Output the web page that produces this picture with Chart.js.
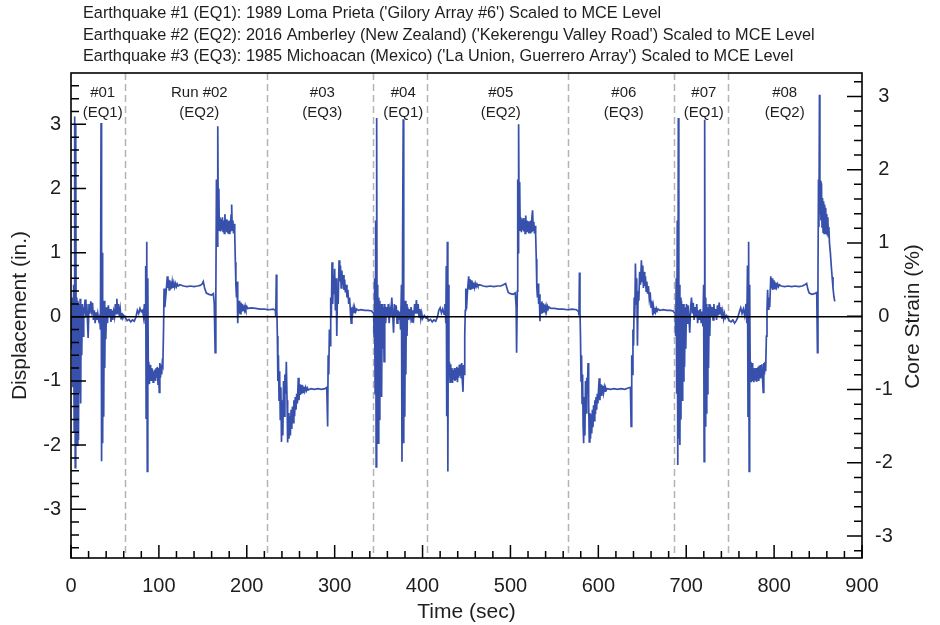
<!DOCTYPE html>
<html>
<head>
<meta charset="utf-8">
<script src="https://cdn.jsdelivr.net/npm/chart.js@4/dist/chart.umd.min.js"></script>
<style>
  html, body { margin: 0; padding: 0; background: #fff; }
  #wrap { width: 940px; height: 625px; }
</style>
</head>
<body>
<div id="wrap"><canvas id="quakeChart" width="940" height="625"></canvas></div>
<script>
// ---- data (time in sec, displacement in inches) ----
const titleLines = [
  "Earthquake #1 (EQ1): 1989 Loma Prieta ('Gilory Array #6') Scaled to MCE Level",
  "Earthquake #2 (EQ2): 2016 Amberley (New Zealand) ('Kekerengu Valley Road') Scaled to MCE Level",
  "Earthquake #3 (EQ3): 1985 Michoacan (Mexico) ('La Union, Guerrero Array') Scaled to MCE Level"
];
const runNames = ["#01", "Run #02", "#03", "#04", "#05", "#06", "#07", "#08"];
const runQuakes = ["(EQ1)", "(EQ2)", "(EQ3)", "(EQ1)", "(EQ2)", "(EQ3)", "(EQ1)", "(EQ2)"];
const runCenters = [36, 146, 286, 378, 489, 629, 720, 812];
const runBounds = [61.5, 223, 344, 405, 565, 686, 747];
const xTicks = [0, 100, 200, 300, 400, 500, 600, 700, 800, 900];
const yTicks = [-3, -2, -1, 0, 1, 2, 3];
const strainTicks = [-3, -2, -1, 0, 1, 2, 3];

const run01 = [[0,0],[0.8,-0.5],[1.5,0.3],[2.2,-1.1],[3,0.5],[3.6,-1.8],[4.2,3.12],[4.8,-2.35],[5.4,3.0],[6,-1.7],[6.6,0.3],[7.2,-2.0],[7.8,0.25],[8.5,-1.92],[9.2,0.2],[9.8,-1.2],[10.4,0.28],[11,-1.35],[11.6,0.15],[12.2,-0.6],[13,0.2],[13.8,-0.3],[14.5,0.15],[15,0.05],[16,0.27],[17,0],[18,0.2],[19,-0.15],[19.5,-0.33],[20.5,0.2],[21.5,0.05],[22.5,0.24],[23.5,0.1],[24.5,0.22],[25.5,-0.05],[26.5,0.1],[27.5,-0.1],[28.5,0.07],[29.5,-0.05],[30.5,0.05],[31.5,-0.05],[32.5,0],[33.5,-0.2],[34.2,3.02],[34.8,-2.25],[35.4,1.0],[36,-1.97],[36.6,0.2],[37.2,-1.56],[37.8,0.25],[38.4,-0.8],[39,0.15],[39.6,-0.35],[40.5,0.15],[41.5,-0.1],[42.5,0.18],[43.5,0],[44.5,0.12],[45.5,-0.08],[46.5,0.1],[47.5,-0.05],[48.5,0.08],[49.5,0],[50.5,0.2],[51.5,0.05],[52.2,0.28],[53,0.05],[54,0.2],[55,0],[56,0.12],[57,-0.03],[58,0.06],[59,-0.02],[60,0.02]];

const run02 = [[62,-0.02],[64,-0.06],[66,-0.04],[68,-0.08],[70,-0.05],[72,-0.07],[74,0],[75.5,0.1],[77,0.05],[78.5,0.13],[80,0.08],[81.5,0.1],[82.5,0],[83.5,0.2],[84.5,-0.1],[85,0.79],[85.5,-1.58],[86.2,1.17],[86.8,-2.41],[87.4,0.6],[88,-0.9],[88.5,-0.7],[89.2,-1.05],[89.9,-0.75],[90.6,-1.0],[91.3,-0.8],[92,-1.0],[92.7,-0.82],[93.4,-1.02],[94.1,-0.85],[94.8,-0.98],[95.5,-0.82],[96.2,-1.0],[96.9,-0.8],[97.6,-0.95],[98.3,-0.78],[99,-1.05],[99.7,-0.8],[100.4,-1.18],[101.1,-0.72],[101.8,-0.95],[102.5,-0.75],[103.2,-0.9],[103.9,-0.72],[104.5,-0.75],[105.3,-0.2],[105.9,0.44],[106.8,0.15],[108,0.35],[109.6,0.63],[110.3,0.45],[111,0.58],[111.7,0.42],[112.4,0.57],[113.1,0.43],[113.8,0.55],[114.5,0.44],[115.2,0.54],[116,0.45],[117,0.53],[118,0.46],[119,0.52],[120,0.47],[121,0.51],[122,0.48],[124,0.5],[128,0.48],[132,0.47],[136,0.48],[140,0.47],[144,0.48],[147,0.49],[149,0.51],[150.5,0.55],[152,0.45],[154,0.37],[157,0.35],[160,0.34],[162,0.36],[163,0.2],[164,-0.56],[164.8,0.3],[165.5,2.14],[166.2,1.1],[167,2.97],[167.6,1.4],[168.2,2.0],[168.8,1.35],[169.5,1.55],[170.2,1.33],[170.9,1.52],[171.6,1.35],[172.3,1.55],[173,1.33],[173.7,1.5],[174.4,1.3],[175.1,1.6],[175.8,1.35],[176.5,1.52],[177.2,1.32],[177.9,1.5],[178.6,1.3],[179.3,1.48],[180,1.3],[180.7,1.5],[181.4,1.32],[182.1,1.58],[182.8,1.75],[183.5,1.35],[184.2,1.5],[184.9,1.3],[185.6,1.45],[186.3,1.3],[187,0.85],[187.6,0.5],[188.3,0.3],[189,0.55],[189.7,-0.1],[190.4,0.25],[191,0.05],[191.8,0.25],[192.6,0.05],[193.4,0.22],[194.2,0.08],[195,0.2],[195.8,0.1],[196.6,0.18],[197.4,0.11],[198.2,0.17],[199,0.12],[200,0.16],[201,0.13],[205,0.14],[210,0.13],[215,0.12],[220,0.12]];

const run03 = [[225,0.11],[230,0.12],[232.5,0.1],[233,0],[233.6,0.66],[234.2,0.1],[234.8,-0.3],[235.4,-1.0],[236,-0.6],[236.7,-1.3],[237.4,-0.85],[238.1,-1.6],[238.8,-1.1],[239.5,-1.95],[240.2,-1.3],[241,-1.85],[241.8,-1.0],[242.6,-1.55],[243.4,-0.9],[244.2,-1.2],[245,-0.7],[245.8,-1.3],[246.5,-1.96],[247.2,-1.5],[248,-1.9],[248.8,-1.55],[249.6,-1.85],[250.4,-1.45],[251.2,-1.75],[252,-1.4],[252.8,-1.65],[253.6,-1.3],[254.4,-1.55],[255.2,-1.25],[256,-1.45],[256.8,-1.2],[257.6,-1.35],[258.6,-0.95],[259.4,-1.3],[260.2,-1.05],[261,-1.22],[261.8,-1.06],[262.6,-1.2],[263.4,-1.07],[264.2,-1.18],[265,-1.09],[266,-1.16],[267,-1.1],[268,-1.15],[269,-1.11],[270,-1.14],[273,-1.12],[277,-1.13],[281,-1.12],[285,-1.13],[289,-1.12],[291,-1.1],[292,-1.71],[292.6,-0.6],[293.3,-0.9],[294,-0.2],[294.8,-0.45],[295.5,0.3],[296.2,0],[297,0.85],[297.8,0.2],[298.5,0.6],[299.2,0.35],[300,0.75],[300.8,0.1],[301.6,0.6],[302.4,-0.3],[303.2,0.4],[304,0.2],[305,0.88],[305.8,0.55],[306.6,0.8],[307.4,0.45],[308.2,0.72],[309,0.5],[309.8,0.65],[310.6,0.42],[311.4,0.58],[312.2,0.38],[313,0.5],[314,0.3],[315,0.42],[316,0.2],[317,0.3],[318,0.05],[318.8,-0.1],[319.6,0.15],[320.4,0.05],[321.2,0.14],[322,0.07],[323,0.13],[324,0.08],[325,0.12],[327,0.1],[330,0.11],[334,0.1],[338,0.1],[342,0.09]];

const run04 = [[344.5,0.05],[344.8,-0.3],[345.4,0.6],[346,-1.2],[346.6,1.5],[347.2,-2.34],[347.8,3.1],[348.4,-1.9],[349,0.5],[349.6,-1.97],[350.2,0.3],[350.8,-1.6],[351.4,0.25],[352,-1.2],[352.7,0.2],[353.4,-1.25],[354.1,0.2],[354.8,-0.5],[355.5,0.15],[356.2,-0.7],[357,0.2],[358,-0.1],[359,0.15],[360,0],[361,0.2],[362,-0.1],[363,0.1],[364,0],[365,0.3],[366,0.05],[367,-0.25],[368,0.2],[369,0],[370,0.18],[371,-0.1],[372,0.1],[373,-0.05],[374,0.08],[375,-0.2],[376,0.5],[376.6,-2.26],[377.3,1.2],[378,3.08],[378.6,-1.97],[379.2,0.2],[379.8,-1.56],[380.4,0.25],[381,-0.9],[381.6,0.2],[382.3,-0.3],[383,0.15],[384,-0.05],[385,0.12],[386,0],[387,0.15],[388,-0.08],[389,0.1],[390,0],[391,0.2],[392,0.05],[393,0.26],[394,0.05],[395,0.2],[396,0],[397,0.12],[398,-0.03],[399,0.06],[400,-0.03],[402,0.02],[404,-0.02]];

const run05 = [[405.5,-0.02],[407,-0.06],[409,-0.04],[411,-0.08],[413,-0.05],[415,-0.07],[417,0],[418.5,0.1],[420,0.14],[421.5,0.06],[423,0.12],[424.5,0.04],[425.5,0.2],[426.5,-0.1],[427,0.79],[427.5,-1.55],[428.2,1.17],[428.8,-2.41],[429.4,0.5],[430,-0.85],[430.6,-0.7],[431.3,-1.02],[432,-0.74],[432.7,-1.0],[433.4,-0.8],[434.1,-1.03],[434.8,-0.83],[435.5,-0.98],[436.2,-0.8],[436.9,-1.0],[437.6,-0.82],[438.3,-0.97],[439,-0.78],[439.7,-1.02],[440.4,-0.8],[441.1,-0.95],[441.8,-0.75],[442.5,-0.92],[443.2,-0.74],[443.9,-0.95],[444.6,-0.72],[445.3,-1.0],[446,-1.17],[446.7,-0.75],[447.4,-0.9],[448,-0.3],[448.6,0.1],[449.2,0.44],[450,0.12],[451,0.38],[452.5,0.63],[453.2,0.44],[453.9,0.59],[454.6,0.42],[455.3,0.57],[456,0.43],[456.8,0.55],[457.6,0.45],[458.4,0.53],[459.2,0.46],[460,0.52],[461,0.47],[462,0.51],[463,0.48],[465,0.5],[469,0.48],[473,0.47],[477,0.48],[481,0.47],[485,0.48],[489,0.48],[492,0.5],[494.5,0.52],[496,0.45],[497.5,0.38],[500,0.36],[503,0.35],[505.5,0.37],[506.5,0.15],[507,-0.56],[507.8,0.4],[508.3,2.14],[508.8,1.0],[509.3,3.0],[509.9,1.4],[510.5,2.1],[511.1,1.35],[511.8,1.55],[512.5,1.32],[513.2,1.52],[513.9,1.35],[514.6,1.54],[515.3,1.33],[516,1.5],[516.7,1.3],[517.4,1.58],[518.1,1.34],[518.8,1.5],[519.5,1.32],[520.2,1.49],[520.9,1.3],[521.6,1.48],[522.3,1.31],[523,1.5],[523.7,1.33],[524.4,1.55],[525.2,1.66],[525.9,1.35],[526.6,1.48],[527.3,1.3],[528,1.42],[528.7,1.28],[529.4,0.9],[530,0.47],[530.7,0.3],[531.4,0.52],[532.1,0.2],[532.8,0.35],[533.6,-0.07],[534.3,0.22],[535,0.06],[535.8,0.24],[536.6,0.06],[537.4,0.21],[538.2,0.08],[539,0.19],[539.8,0.1],[540.6,0.17],[541.4,0.11],[542.2,0.16],[543,0.12],[544,0.15],[546,0.13],[550,0.13],[555,0.12],[560,0.12]];

const run06 = [[565,0.11],[570,0.12],[575,0.11],[577.5,0.08],[578,0.02],[578.5,0.69],[579.1,0.1],[579.7,-0.3],[580.3,-1.0],[580.9,-0.6],[581.5,-1.35],[582.1,-0.9],[582.7,-1.7],[583.3,-1.97],[584,-1.25],[584.7,-1.85],[585.4,-1.0],[586.1,-1.5],[586.8,-0.95],[587.5,-1.2],[588.3,-0.72],[589,-1.35],[589.7,-1.95],[590.4,-1.5],[591.1,-1.9],[591.8,-1.52],[592.5,-1.82],[593.2,-1.45],[593.9,-1.72],[594.6,-1.38],[595.3,-1.62],[596,-1.3],[596.7,-1.52],[597.4,-1.25],[598.1,-1.45],[598.8,-1.2],[599.5,-1.35],[600.2,-1.15],[601,-0.96],[601.8,-1.3],[602.5,-1.05],[603.2,-1.22],[603.9,-1.06],[604.6,-1.2],[605.3,-1.08],[606,-1.18],[606.8,-1.1],[607.6,-1.16],[608.4,-1.11],[609.2,-1.14],[610,-1.12],[614,-1.13],[618,-1.12],[622,-1.13],[626,-1.12],[630,-1.13],[634,-1.11],[636.5,-1.1],[637.3,-1.71],[638,-0.6],[638.7,-0.9],[639.4,-0.2],[640.1,-0.45],[640.8,0.3],[641.5,0],[642.2,0.83],[643,0.2],[643.7,0.6],[644.5,-0.45],[645.3,0.4],[646.1,0.25],[647,0.7],[648,0.5],[649,0.88],[649.8,0.55],[650.6,0.8],[651.3,0.45],[652,0.7],[652.8,0.48],[653.6,0.63],[654.4,0.4],[655.2,0.55],[656,0.36],[657,0.48],[658,0.28],[659,0.38],[660,0.15],[661,0.25],[662,0.02],[662.8,0.15],[663.6,0.06],[664.4,0.14],[665.2,0.08],[666,0.13],[667,0.09],[668,0.12],[670,0.1],[674,0.11],[678,0.1],[682,0.1],[685,0.09]];

const run07 = [[687.5,0.05],[688,-0.3],[688.6,0.6],[689.2,-1.2],[689.8,1.5],[690.4,-2.31],[691,3.1],[691.6,-1.9],[692.2,0.5],[692.8,-2.0],[693.4,0.3],[694,-1.6],[694.6,0.25],[695.3,-1.3],[696,0.2],[696.7,-1.0],[697.4,0.2],[698.1,-0.78],[698.8,0.15],[699.5,-0.5],[700.3,0.2],[701,-0.1],[702,0.18],[703,0],[704,-0.25],[705,0.15],[706,0.3],[707,0.05],[708,0.22],[709,-0.05],[710,0.15],[711,0],[712,0.2],[713,-0.1],[714,0.1],[715,-0.05],[716,0.12],[717,-0.1],[718,0.08],[719,-0.15],[719.8,0.5],[720.4,-2.26],[721,3.07],[721.6,-1.7],[722.2,0.3],[722.8,-1.5],[723.4,0.2],[724,-1.2],[724.7,0.15],[725.4,-0.8],[726.1,0.2],[726.8,-0.3],[727.5,0.18],[728.5,0],[729.5,0.15],[730.5,-0.05],[731.5,0.2],[732.5,0],[733.5,0.12],[734.5,-0.05],[735.5,0.18],[736.5,0.02],[737.5,0.22],[738.5,0.05],[739.5,0.15],[740.5,-0.03],[741.5,0.08],[742.5,-0.03],[743.5,0.05],[744.5,-0.02],[746,0.02]];

const run08 = [[747.5,-0.02],[749,-0.06],[751,-0.08],[753,-0.05],[755,-0.1],[757,-0.06],[759,0],[760.5,0.08],[762,0.14],[763.5,0.05],[765,0.12],[766.5,0.02],[768,0.2],[769,-0.1],[769.7,0.8],[770.3,-1.55],[771,1.17],[771.6,-2.41],[772.2,0.5],[772.8,-0.9],[773.5,-0.7],[774.2,-1.02],[774.9,-0.72],[775.6,-1.0],[776.3,-0.8],[777,-1.02],[777.7,-0.82],[778.4,-0.98],[779.1,-0.8],[779.8,-1.0],[780.5,-0.8],[781.2,-0.96],[781.9,-0.78],[782.6,-1.0],[783.3,-0.76],[784,-0.95],[784.7,-0.75],[785.4,-0.92],[786.1,-0.74],[786.8,-0.95],[787.6,-1.18],[788.3,-0.72],[789,-0.9],[789.7,-0.7],[790.4,-0.85],[791.2,-0.3],[791.9,0.1],[792.6,0.42],[793.3,0.12],[794,0.3],[795,0.15],[796.2,0.63],[797,0.44],[797.7,0.6],[798.4,0.42],[799.1,0.57],[799.8,0.43],[800.5,0.55],[801.2,0.44],[802,0.53],[803,0.46],[804,0.51],[805,0.47],[806,0.5],[808,0.48],[812,0.47],[816,0.48],[820,0.47],[824,0.48],[828,0.47],[832,0.48],[835,0.5],[837,0.52],[838.6,0.42],[840,0.37],[843,0.35],[846,0.36],[848.5,0.38],[849.3,-0.56],[849.9,0.6],[850.5,2.14],[851,1.4],[851.6,3.46],[852.1,1.6],[852.7,2.12],[853.3,1.5],[853.9,2.08],[854.5,1.4],[855.1,1.85],[855.7,1.32],[856.3,1.8],[856.9,1.3],[857.5,1.75],[858.1,1.35],[858.7,1.7],[859.3,1.3],[859.9,1.6],[860.5,1.28],[861.1,1.55],[861.7,1.25],[862.3,1.4],[863,1.15],[864,1.0],[865,0.8],[866,0.62],[867,0.45],[868,0.32],[869,0.24]];

const allRuns = [run01, run02, run03, run04, run05, run06, run07, run08];

const FONT = "'Liberation Sans', Arial, Helvetica, sans-serif";
const INK = '#1e1e1e';

// frame, zero line, inward ticks, run bounds, labels
const decorPlugin = {
  id: 'decor',
  beforeDatasetsDraw(chart) {
    const {ctx, chartArea: a, scales} = chart;
    ctx.save();
    ctx.strokeStyle = '#b4b4b4';
    ctx.lineWidth = 1.5;
    ctx.setLineDash([7, 4]);
    runBounds.forEach(t => {
      const x = Math.round(scales.x.getPixelForValue(t)) + 0.5;
      ctx.beginPath();
      ctx.moveTo(x, a.top);
      ctx.lineTo(x, a.bottom);
      ctx.stroke();
    });
    ctx.restore();
  },
  afterDatasetsDraw(chart) {
    const {ctx, chartArea: a, scales} = chart;
    const sx = scales.x, sy = scales.y, s2 = scales.y1;
    ctx.save();
    ctx.strokeStyle = '#000';
    ctx.lineWidth = 1.6;

    // zero line
    const y0 = sy.getPixelForValue(0);
    ctx.beginPath();
    ctx.moveTo(a.left, y0);
    ctx.lineTo(a.right, y0);
    ctx.stroke();

    // frame
    ctx.strokeRect(a.left, a.top, a.right - a.left, a.bottom - a.top);

    // inward ticks
    ctx.lineWidth = 1.5;
    ctx.beginPath();
    for (let v = 0; v <= 900; v += 20) {
      const x = sx.getPixelForValue(v);
      const len = v % 100 === 0 ? 13 : 7;
      ctx.moveTo(x, a.bottom);
      ctx.lineTo(x, a.bottom - len);
    }
    for (let i = -18; i <= 18; i++) {
      const v = i / 5;
      const y = sy.getPixelForValue(v);
      if (y < a.top + 1 || y > a.bottom - 1) continue;
      const len = i % 5 === 0 ? 15 : 8;
      ctx.moveTo(a.left, y);
      ctx.lineTo(a.left + len, y);
    }
    for (let i = -16; i <= 16; i++) {
      const v = i / 5;
      const y = s2.getPixelForValue(v);
      if (y < a.top + 1 || y > a.bottom - 1) continue;
      const len = i % 5 === 0 ? 15 : 8;
      ctx.moveTo(a.right, y);
      ctx.lineTo(a.right - len, y);
    }
    ctx.stroke();

    // run labels
    ctx.fillStyle = INK;
    ctx.font = '15px ' + FONT;
    ctx.textAlign = 'center';
    ctx.textBaseline = 'middle';
    runCenters.forEach((t, i) => {
      const x = sx.getPixelForValue(t);
      ctx.fillText(runNames[i], x, 93);
      ctx.fillText(runQuakes[i], x, 113);
    });

    // right axis title, reading bottom to top like the left one
    ctx.save();
    ctx.translate(913, (a.top + a.bottom) / 2 + 1);
    ctx.rotate(-Math.PI / 2);
    ctx.font = '21px ' + FONT;
    ctx.fillText('Core Strain (%)', 0, 0);
    ctx.restore();

    // header lines
    ctx.textAlign = 'left';
    ctx.font = '16.3px ' + FONT;
    titleLines.forEach((s, i) => ctx.fillText(s, 83, 14 + i * 21.5));
    ctx.restore();
  }
};

const points = [];
allRuns.forEach(r => r.forEach(([t, v]) => points.push({x: t, y: v})));

new Chart(document.getElementById('quakeChart'), {
  type: 'line',
  data: {
    datasets: [{
      label: 'Displacement',
      data: points,
      yAxisID: 'y',
      borderColor: '#3650ac',
      borderWidth: 1.7,
      pointRadius: 0,
      tension: 0,
      fill: false
    }]
  },
  options: {
    responsive: false,
    animation: false,
    events: [],
    layout: { padding: { top: 73, left: 0, right: 0, bottom: 0 } },
    plugins: { legend: { display: false }, tooltip: { enabled: false } },
    scales: {
      x: {
        type: 'linear', position: 'bottom', min: 0, max: 900,
        afterBuildTicks: s => { s.ticks = xTicks.map(v => ({value: v})); },
        afterFit: s => { s.height = 67; },
        grid: { display: false, drawTicks: false },
        border: { display: false },
        ticks: { font: { family: FONT, size: 20 }, color: INK, padding: 16, maxRotation: 0 },
        title: { display: true, text: 'Time (sec)', font: { family: FONT, size: 21 }, color: INK, padding: { top: 0, bottom: 0 } }
      },
      y: {
        position: 'left', min: -3.76, max: 3.8,
        afterBuildTicks: s => { s.ticks = yTicks.map(v => ({value: v})); },
        afterFit: s => { s.width = 71; },
        grid: { display: false, drawTicks: false },
        border: { display: false },
        ticks: { font: { family: FONT, size: 20 }, color: INK, padding: 10 },
        title: { display: true, text: 'Displacement (in.)', font: { family: FONT, size: 21 }, color: INK, padding: { top: 8, bottom: 0 } }
      },
      y1: {
        position: 'right', min: -3.3, max: 3.32,
        afterBuildTicks: s => { s.ticks = strainTicks.map(v => ({value: v})); },
        afterFit: s => { s.width = 78; },
        grid: { display: false, drawTicks: false },
        border: { display: false },
        ticks: { font: { family: FONT, size: 20 }, color: INK, padding: 13, crossAlign: 'center' },
        title: { display: false }
      }
    }
  },
  plugins: [decorPlugin]
});
</script>
</body>
</html>
